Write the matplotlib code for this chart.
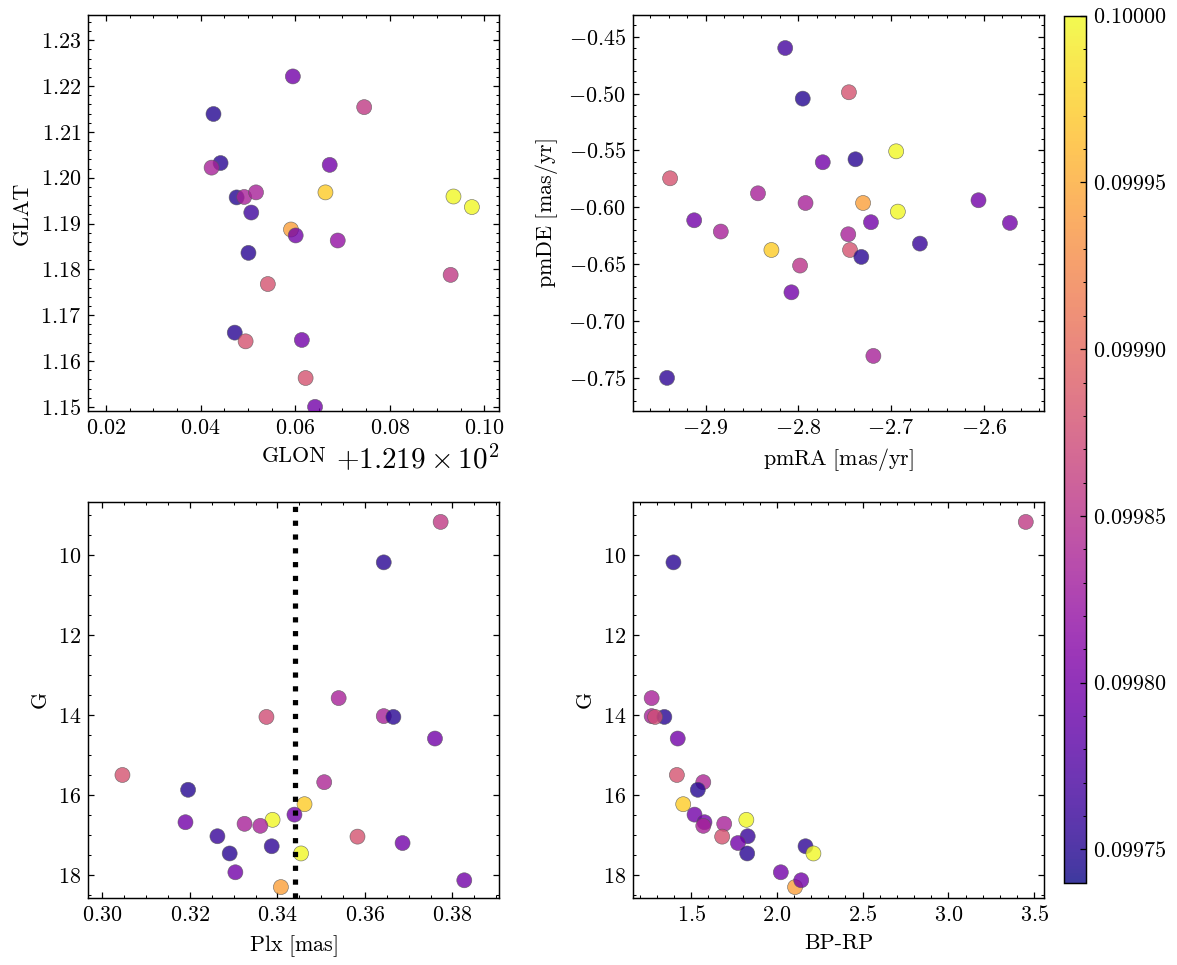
import numpy as np
import matplotlib
matplotlib.use("Agg")
import matplotlib.pyplot as plt
from matplotlib.colors import Normalize
from matplotlib.ticker import MultipleLocator, AutoMinorLocator

# ---------------- data ----------------
# Panel 1: galactic coordinates
glon = [121.9595, 121.9746, 121.9427, 121.9442, 121.9423, 121.9673, 121.9476, 121.9492,
        121.9517, 121.9664, 121.9935, 121.9974, 121.9507, 121.9591, 121.9601, 121.9690,
        121.9501, 121.9929, 121.9542, 121.9472, 121.9495, 121.9614, 121.9622, 121.9642]
glat = [1.2221, 1.2154, 1.2139, 1.2032, 1.2022, 1.2028, 1.1957, 1.1958,
        1.1968, 1.1968, 1.1959, 1.1936, 1.1924, 1.1887, 1.1874, 1.1863,
        1.1836, 1.1788, 1.1768, 1.1662, 1.1643, 1.1646, 1.1563, 1.1500]
c_pos = [0.099797, 0.099857, 0.099750, 0.099752, 0.099836, 0.099797, 0.099750, 0.099836,
         0.099836, 0.099972, 0.099998, 0.099998, 0.099765, 0.099943, 0.099797, 0.099820,
         0.099752, 0.099857, 0.099880, 0.099752, 0.099880, 0.099797, 0.099880, 0.099797]

# Panel 2: proper motions
pmra = [-2.8141, -2.7952, -2.7454, -2.6944, -2.7736, -2.7383, -2.9383, -2.8435,
        -2.7922, -2.7301, -2.6926, -2.6056, -2.5717, -2.9123, -2.8836, -2.7216,
        -2.7461, -2.7442, -2.8290, -2.7320, -2.6688, -2.7981, -2.8074, -2.7190, -2.9416]
pmde = [-0.4600, -0.5045, -0.4989, -0.5508, -0.5604, -0.5578, -0.5745, -0.5877,
        -0.5962, -0.5962, -0.6038, -0.5938, -0.6137, -0.6114, -0.6213, -0.6131,
        -0.6237, -0.6375, -0.6375, -0.6436, -0.6319, -0.6512, -0.6747, -0.7306, -0.7499]
c_pm = [0.099768, 0.099750, 0.099880, 0.099998, 0.099797, 0.099752, 0.099880, 0.099836,
        0.099836, 0.099943, 0.099998, 0.099797, 0.099797, 0.099797, 0.099836, 0.099797,
        0.099836, 0.099880, 0.099972, 0.099752, 0.099760, 0.099852, 0.099797, 0.099836, 0.099755]

# Panels 3 and 4: parallax, colour and magnitude
plx = [0.3773, 0.3643, 0.3540, 0.3643, 0.3665, 0.3375, 0.3760, 0.3046, 0.3507, 0.3196,
       0.3462, 0.3439, 0.3389, 0.3190, 0.3325, 0.3361, 0.3263, 0.3583, 0.3686, 0.3387,
       0.3454, 0.3291, 0.3304, 0.3408, 0.3827]
bp_rp = [3.451, 1.397, 1.270, 1.270, 1.344, 1.290, 1.422, 1.417, 1.571, 1.539,
         1.454, 1.520, 1.822, 1.578, 1.693, 1.571, 1.830, 1.681, 1.773, 2.167,
         2.213, 1.827, 2.023, 2.106, 2.142]
gmag = [9.18, 10.19, 13.58, 14.03, 14.05, 14.05, 14.59, 15.50, 15.68, 15.87,
        16.23, 16.49, 16.62, 16.68, 16.72, 16.77, 17.03, 17.04, 17.20, 17.28,
        17.46, 17.46, 17.93, 18.30, 18.13]
c_phot = [0.099857, 0.099752, 0.099836, 0.099836, 0.099752, 0.099875, 0.099797, 0.099880,
          0.099840, 0.099750, 0.099972, 0.099797, 0.099998, 0.099797, 0.099836, 0.099836,
          0.099760, 0.099880, 0.099797, 0.099755, 0.099998, 0.099752, 0.099797, 0.099943,
          0.099797]
plx_ref = 0.3441

cbar_ticks = [0.09975, 0.09980, 0.09985, 0.09990, 0.09995, 0.10000]
c_min, c_max = 0.09974, 0.10000

# ---------------- style ----------------
FS = 10.6
plt.rcParams.update({
    'font.family': 'serif',
    'font.serif': ['cmr10'],
    'mathtext.fontset': 'cm',
    'axes.formatter.use_mathtext': True,
    'axes.unicode_minus': True,
    'font.size': FS,
    'axes.labelsize': FS,
    'xtick.labelsize': FS,
    'ytick.labelsize': FS,
    'xtick.direction': 'in',
    'ytick.direction': 'in',
    'xtick.top': True,
    'ytick.right': True,
    'xtick.minor.visible': True,
    'ytick.minor.visible': True,
    'xtick.major.size': 3,
    'ytick.major.size': 3,
    'xtick.minor.size': 1.5,
    'ytick.minor.size': 1.5,
    'xtick.major.width': 0.6,
    'ytick.major.width': 0.6,
    'xtick.minor.width': 0.5,
    'ytick.minor.width': 0.5,
    'axes.linewidth': 0.7,
})

W, H = 1177, 965
fig = plt.figure(figsize=(W / 150, H / 150), dpi=150)


def rect(l, t, r, b):
    return [l / W, 1 - b / H, (r - l) / W, (b - t) / H]


ax1 = fig.add_axes(rect(88.3, 15, 499.3, 411))
ax2 = fig.add_axes(rect(633.3, 15, 1044.3, 411))
ax3 = fig.add_axes(rect(88.3, 501.5, 499.3, 897.7))
ax4 = fig.add_axes(rect(633.3, 501.5, 1044.3, 897.7))
cax = fig.add_axes(rect(1064, 15.7, 1086, 882.7))

norm = Normalize(vmin=c_min, vmax=c_max)
kw = dict(cmap='plasma', norm=norm, s=52, alpha=0.8, edgecolors='0.35', linewidths=0.3, zorder=3)

sc = ax1.scatter(glon, glat, c=c_pos, **kw)
ax1.set_xlim(121.9162, 122.0032)
ax1.set_ylim(1.1491, 1.2355)
ax1.xaxis.set_major_locator(MultipleLocator(0.02))
ax1.xaxis.set_minor_locator(AutoMinorLocator(4))
ax1.yaxis.set_major_locator(MultipleLocator(0.01))
ax1.yaxis.set_minor_locator(AutoMinorLocator(5))
ax1.ticklabel_format(axis='x', useOffset=121.9)
ax1.xaxis.get_offset_text().set_fontsize(14)
ax1.set_xlabel('GLON')
ax1.set_ylabel('GLAT')

ax2.scatter(pmra, pmde, c=c_pm, **kw)
ax2.set_xlim(-2.978, -2.5346)
ax2.set_ylim(-0.779, -0.431)
ax2.xaxis.set_major_locator(MultipleLocator(0.1))
ax2.yaxis.set_major_locator(MultipleLocator(0.05))
ax2.set_xlabel(r'$\mathrm{pmRA\ [mas/yr]}$')
ax2.set_ylabel(r'$\mathrm{pmDE\ [mas/yr]}$')

ax3.scatter(plx, gmag, c=c_phot, **kw)
ax3.axvline(plx_ref, color='k', ls=':', lw=2.5, zorder=4)
ax3.set_xlim(0.2968, 0.3907)
ax3.set_ylim(18.565, 8.67)
ax3.xaxis.set_major_locator(MultipleLocator(0.02))
ax3.yaxis.set_major_locator(MultipleLocator(2))
ax3.set_xlabel(r'$\mathrm{Plx\ [mas]}$')
ax3.set_ylabel('G')

ax4.scatter(bp_rp, gmag, c=c_phot, **kw)
ax4.set_xlim(1.163, 3.559)
ax4.set_ylim(18.565, 8.67)
ax4.xaxis.set_major_locator(MultipleLocator(0.5))
ax4.yaxis.set_major_locator(MultipleLocator(2))
ax4.set_xlabel('BP-RP')
ax4.set_ylabel('G')

cb = fig.colorbar(sc, cax=cax)
cb.set_ticks(cbar_ticks)
cb.minorticks_on()
cb.outline.set_linewidth(0.7)

fig.savefig('out.png', dpi=150)
